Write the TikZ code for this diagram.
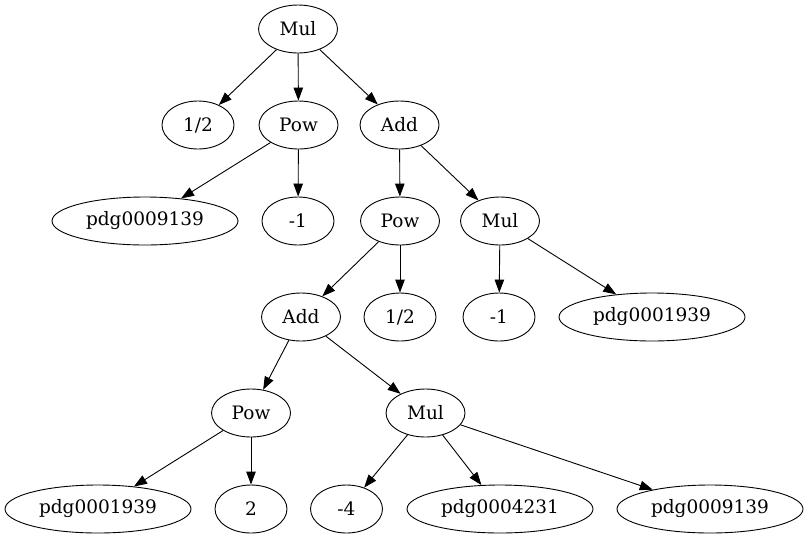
\documentclass[tikz,border=0pt]{standalone}
\usepackage{fontspec}
\setmainfont{DejaVu Serif}
\usetikzlibrary{arrows.meta, shapes.geometric}

\tikzset{
  tnode/.style={draw, ellipse, line width=0.9pt, inner sep=0pt,
    minimum width=72pt, minimum height=48pt},
  opnode/.style={tnode, minimum width=79pt},
  symnode/.style={tnode, minimum width=186pt},
  edge/.style={line width=0.9pt, -{Triangle[length=13pt, width=9.5pt]}}
}

\begin{document}
\begin{tikzpicture}[x=1pt, y=-1pt, font=\fontsize{18.5}{22}\selectfont]
    \useasboundingbox (0,0) rectangle (808,539);
    % row 1
    \node[opnode] (mulA) at (298,29) {Mul};
    % row 2
    \node[tnode] (halfA) at (198,125) {1/2};
    \node[opnode] (powA) at (298.5,125) {Pow};
    \node[opnode] (addA) at (399.5,125) {Add};
    % row 3
    \node[symnode] (sym9139A) at (145,221) {pdg0009139};
    \node[tnode] (negoneA) at (298,221) {-1};
    \node[opnode] (powB) at (400,221) {Pow};
    \node[opnode] (mulB) at (500,221) {Mul};
    % row 4
    \node[opnode] (addB) at (301,317) {Add};
    \node[tnode] (halfB) at (400,317) {1/2};
    \node[tnode] (negoneB) at (499,317) {-1};
    \node[symnode] (sym1939A) at (652,317) {pdg0001939};
    % row 5
    \node[opnode] (powC) at (251,413) {Pow};
    \node[opnode] (mulC) at (425.5,413) {Mul};
    % row 6
    \node[symnode] (sym1939B) at (98,509) {pdg0001939};
    \node[tnode] (two) at (251,509) {2};
    \node[tnode] (negfour) at (346.5,509) {-4};
    \node[symnode] (sym4231) at (500,509) {pdg0004231};
    \node[symnode] (sym9139B) at (710,509) {pdg0009139};

    \draw[edge] (mulA) -- (halfA);
    \draw[edge] (mulA) -- (powA);
    \draw[edge] (mulA) -- (addA);
    \draw[edge] (powA) -- (sym9139A);
    \draw[edge] (powA) -- (negoneA);
    \draw[edge] (addA) -- (powB);
    \draw[edge] (addA) -- (mulB);
    \draw[edge] (powB) -- (addB);
    \draw[edge] (powB) -- (halfB);
    \draw[edge] (mulB) -- (negoneB);
    \draw[edge] (mulB) -- (sym1939A);
    \draw[edge] (addB) -- (powC);
    \draw[edge] (addB) -- (mulC);
    \draw[edge] (powC) -- (sym1939B);
    \draw[edge] (powC) -- (two);
    \draw[edge] (mulC) -- (negfour);
    \draw[edge] (mulC) -- (sym4231);
    \draw[edge] (mulC) -- (sym9139B);
\end{tikzpicture}
\end{document}
